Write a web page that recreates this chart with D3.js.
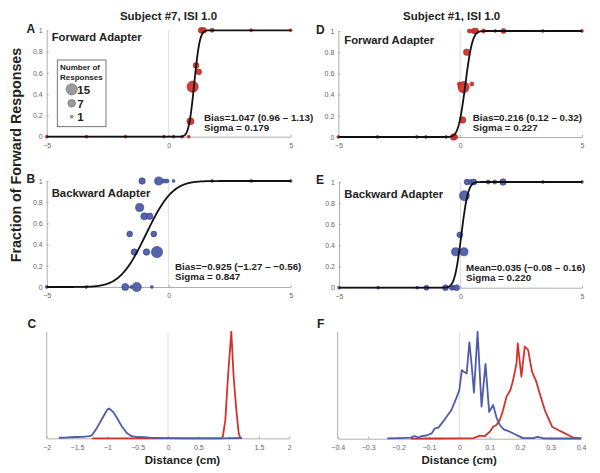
<!DOCTYPE html>
<html><head><meta charset="utf-8">
<script src="https://cdn.jsdelivr.net/npm/d3@7"></script>
<style>
body{margin:0;background:#fff}
svg{display:block}
text{font-family:"Liberation Sans",Arial,Helvetica,sans-serif}
</style>
</head><body>
<svg id="chart" width="600" height="473"></svg>
<script>
// ---------------- DATA ----------------
// psychometric points: [distance, fraction forward, number of responses]
const s7Forward = [
  [-5,0,1],[-3.37,0,1],[-1.77,0,1],[-0.2,0,1],[0.2,0,1],[0.55,0,1],[0.82,0,1],
  [0.89,0.145,6],[0.98,0.47,15],[1.12,0.67,4],[1.23,0.61,4],
  [1.33,1,4],[1.43,1,4],[1.78,1,2],[3.38,1,1],[5,1,1]
];
const s7Backward = [
  [-5,0,1],[-3.38,0,1],[-1.78,0,6],[-1.54,0,1],[-1.31,0,10],[-0.69,0,1],
  [-1.41,0.33,5],[-0.91,0.33,5],[-0.48,0.33,15],
  [-1.6,0.5,4],[-0.61,0.5,4],
  [-1.0,0.667,6],[-0.78,0.667,5],
  [-1.19,0.75,8],
  [-1.09,1,5],[-0.41,1,8],[-0.2,1,2],[-0.07,1,2],[0.2,1,1],[1.78,1,1],[3.39,1,1],[5,1,1]
];
const s1Forward = [
  [-5,0,1],[-3.39,0,1],[-1.78,0,1],[-1.41,0,1],[-0.57,0,1],[-0.27,0,5],[-0.18,0,2],
  [0.1,0.16,5],[-0.03,0.5,2],[0.48,0.5,2],[0.14,0.47,15],[0.27,0.8,5],
  [0.38,1,2],[0.55,1,3],[0.64,1,4],[0.96,1,2],[1.44,1,1],[1.78,1,3],[3.39,1,1],[5,1,1]
];
const s1Backward = [
  [-5,0,1],[-3.39,0,1],[-1.78,0,1],[-1.4,0,3],[-0.62,0,4],[-0.35,0,3],[-0.27,0,2],[-0.16,0,4],
  [-0.2,0.34,8],[0.14,0.34,8],[-0.03,0.5,4],[0.16,0.87,12],
  [0.27,1,4],[0.43,1,3],[0.55,1,4],[1.14,1,2],[1.41,1,2],[1.75,1,5],[3.39,1,1],[5,1,1]
];
// fitted cumulative-Gaussian parameters [mean, sigma]
const fitS7F = [1.047, 0.179];
const fitS7B = [-0.925, 0.847];
const fitS1F = [0.216, 0.227];
const fitS1B = [0.035, 0.220];
// annotations
const statsA = ["Bias=1.047 (0.96 \u2013 1.13)", "Sigma = 0.179"];
const statsB = ["Bias=\u22120.925 (\u22121.27 \u2013 \u22120.56)", "Sigma = 0.847"];
const statsD = ["Bias=0.216 (0.12 \u2013 0.32)", "Sigma = 0.227"];
const statsE = ["Mean=0.035 (\u22120.08 \u2013 0.16)", "Sigma = 0.220"];
const titles = ["Subject #7, ISI 1.0", "Subject #1, ISI 1.0"];
const legendCounts = [15, 7, 1];
// bootstrap distributions: [distance, relative density]
const distCBlue = [
  [-1.8,0.005],[-1.7,0.007],[-1.6,0.01],[-1.5,0.012],[-1.4,0.014],[-1.3,0.02],[-1.25,0.03],
  [-1.17,0.1],[-1.08,0.19],[-1.0,0.27],[-0.97,0.28],[-0.9,0.245],[-0.84,0.19],[-0.76,0.11],
  [-0.68,0.05],[-0.6,0.02],[-0.5,0.012],[-0.4,0.01],[-0.3,0.006],[-0.2,0.004],[-0.1,0.002],
  [0,0.001],[0.3,0],[0.6,0],[0.9,0],[1.22,0.003]
];
const distCRed = [
  [-1.25,0],[-0.8,0],[-0.4,0],[0,0],[0.5,0],[0.88,0],[0.906,0.02],[0.945,0.17],[0.989,0.58],
  [1.044,1.0],[1.082,0.58],[1.126,0.27],[1.165,0.05],[1.19,0.005],[1.22,0]
];
const distFBlue = [
  [-0.237,0.003],[-0.196,0.006],[-0.16,0.01],[-0.147,0.025],[-0.135,0.01],[-0.124,0.025],
  [-0.108,0.03],[-0.091,0.05],[-0.08,0.097],[-0.069,0.103],[-0.058,0.143],[-0.042,0.206],
  [-0.026,0.268],[-0.009,0.386],[0.0,0.455],[0.008,0.64],[0.015,0.625],[0.024,0.61],
  [0.033,0.9],[0.041,0.67],[0.048,0.43],[0.060,1.0],[0.073,0.3],[0.086,0.7],[0.098,0.25],
  [0.111,0.315],[0.122,0.2],[0.133,0.128],[0.146,0.087],[0.166,0.065],[0.188,0.034],
  [0.210,0.006],[0.243,0.006],[0.257,0.016],[0.277,0.003],[0.30,0.002],[0.40,0.002]
];
const distFRed = [
  [-0.16,0],[-0.1,0.002],[0.0,0.003],[0.046,0.006],[0.068,0.028],[0.084,0.025],[0.1,0.065],
  [0.111,0.112],[0.122,0.128],[0.133,0.175],[0.144,0.268],[0.155,0.393],[0.168,0.455],
  [0.177,0.55],[0.188,0.703],[0.192,0.89],[0.204,0.58],[0.215,0.86],[0.226,0.83],
  [0.239,0.626],[0.253,0.533],[0.264,0.424],[0.281,0.268],[0.305,0.112],[0.325,0.081],
  [0.347,0.05],[0.364,0.025],[0.375,0.01],[0.4,0.003]
];
// tick values
const psyXTicks = [-5, 0, 5];
const psyYTicks = [0, 0.2, 0.4, 0.6, 0.8, 1];
const distCTicks = [-2, -1.5, -1, -0.5, 0, 0.5, 1, 1.5, 2];
const distFTicks = [-0.4, -0.3, -0.2, -0.1, 0, 0.1, 0.2, 0.3, 0.4];

// ---------------- DRAWING ----------------
const svg = d3.select("#chart");
const RED = "#d2322b", RED_S = "#9e1e18", BLUE = "#4d5caa", BLUE_S = "#2f3b80";
const AX = "#9a9a9a", TXT = "#222";
const rScale = d3.scaleSqrt().domain([0, 15]).range([0, 5.6]);

function erf(x){
  const s = x < 0 ? -1 : 1; x = Math.abs(x);
  const t = 1/(1+0.3275911*x);
  const y = 1 - (((((1.061405429*t - 1.453152027)*t) + 1.421413741)*t - 0.284496736)*t + 0.254829592)*t*Math.exp(-x*x);
  return s*y;
}
const ncdf = (x, m, s) => 0.5*(1+erf((x-m)/(s*Math.SQRT2)));

function styleAxis(g){
  g.selectAll(".domain").attr("stroke", AX).attr("stroke-width", 0.8);
  g.selectAll(".tick line").attr("stroke", AX).attr("stroke-width", 0.8);
  g.selectAll(".tick text").attr("fill", "#666").style("font-size", "7px")
    .style("font-family", '"Liberation Sans",Arial,sans-serif');
}
const fmt = d => d3.format("~g")(d).replace("-", "\u2212");

function psyPanel(cfg){
  const x = d3.scaleLinear().domain([-5, 5]).range([cfg.x0, cfg.x1]);
  const y = d3.scaleLinear().domain([0, 1]).range([cfg.yb, cfg.yt]);
  const g = svg.append("g");
  g.append("line").attr("x1", x(0)).attr("x2", x(0)).attr("y1", y(0)).attr("y2", y(1))
    .attr("stroke", "#d4d4d4").attr("stroke-width", 0.8);
  const gx = g.append("g").attr("transform", `translate(0,${y(0)})`)
    .call(d3.axisBottom(x).tickValues(psyXTicks).tickFormat(fmt).tickSize(-2).tickSizeOuter(0).tickPadding(6.5));
  styleAxis(gx);
  const gy = g.append("g").attr("transform", `translate(${x(-5)},0)`)
    .call(d3.axisLeft(y).tickValues(psyYTicks).tickFormat(fmt).tickSize(-2).tickSizeOuter(0).tickPadding(4));
  styleAxis(gy);
  g.selectAll("circle.pt").data(cfg.pts).join("circle").attr("class", "pt")
    .attr("cx", d => x(d[0])).attr("cy", d => y(d[1])).attr("r", d => rScale(d[2]))
    .attr("fill", cfg.fill).attr("stroke", cfg.stroke).attr("stroke-width", 0.6).attr("fill-opacity", 0.95);
  const xs = d3.range(-5, 5.0001, 0.02);
  g.append("path").datum(xs)
    .attr("d", d3.line().x(d => x(d)).y(d => y(ncdf(d, cfg.fit[0], cfg.fit[1]))))
    .attr("fill", "none").attr("stroke", "#111").attr("stroke-width", 1.8);
  g.append("text").attr("x", cfg.lx).attr("y", cfg.ly).text(cfg.label)
    .style("font-size", "11.3px").style("font-weight", "bold").attr("fill", TXT);
  g.selectAll("text.st").data(cfg.stats).join("text").attr("class", "st")
    .attr("x", cfg.sx).attr("y", (d, i) => cfg.sy + i*10.5).text(d => d)
    .style("font-size", "9.8px").style("font-weight", "bold").attr("fill", TXT);
  svg.append("text").attr("x", cfg.letterX).attr("y", cfg.letterY).text(cfg.letter)
    .style("font-size", "12px").style("font-weight", "bold").attr("fill", TXT);
}

function distPanel(cfg){
  const x = d3.scaleLinear().domain(cfg.dom).range([cfg.x0, cfg.x1]);
  const y = d3.scaleLinear().domain([0, 1]).range([cfg.yb, cfg.yt]);
  const g = svg.append("g");
  g.append("line").attr("x1", x(0)).attr("x2", x(0)).attr("y1", y(0)).attr("y2", y(1))
    .attr("stroke", "#d4d4d4").attr("stroke-width", 0.8);
  g.append("line").attr("x1", cfg.x0).attr("x2", cfg.x0).attr("y1", y(0)).attr("y2", y(1))
    .attr("stroke", AX).attr("stroke-width", 0.8);
  const gx = g.append("g").attr("transform", `translate(0,${y(0)})`)
    .call(d3.axisBottom(x).tickValues(cfg.ticks).tickFormat(fmt).tickSize(-2).tickSizeOuter(0).tickPadding(6.5));
  styleAxis(gx);
  const line = d3.line().x(d => x(d[0])).y(d => y(d[1]));
  g.append("path").datum(cfg.red).attr("d", line).attr("fill", "none")
    .attr("stroke", RED).attr("stroke-width", 1.8).attr("stroke-linejoin", "round");
  g.append("path").datum(cfg.blue).attr("d", line).attr("fill", "none")
    .attr("stroke", BLUE).attr("stroke-width", 1.8).attr("stroke-linejoin", "round");
  g.append("text").attr("x", cfg.tx).attr("y", 463.5).attr("text-anchor", "middle")
    .text("Distance (cm)").style("font-size", "11.5px").style("font-weight", "bold").attr("fill", TXT);
  svg.append("text").attr("x", cfg.letterX).attr("y", 328).text(cfg.letter)
    .style("font-size", "12px").style("font-weight", "bold").attr("fill", TXT);
}

psyPanel({x0:46.7, x1:290.7, yb:136.7, yt:30.3, pts:s7Forward, fit:fitS7F, fill:RED, stroke:RED_S,
  label:"Forward Adapter", lx:51.7, ly:40.7, stats:statsA, sx:204, sy:120.7, letter:"A", letterX:26.5, letterY:33});
psyPanel({x0:46.7, x1:290.7, yb:287, yt:181, pts:s7Backward, fit:fitS7B, fill:BLUE, stroke:BLUE_S,
  label:"Backward Adapter", lx:51.7, ly:196.7, stats:statsB, sx:175, sy:269.5, letter:"B", letterX:26.5, letterY:183});
psyPanel({x0:338.3, x1:582, yb:137, yt:31, pts:s1Forward, fit:fitS1F, fill:RED, stroke:RED_S,
  label:"Forward Adapter", lx:344.3, ly:44.3, stats:statsD, sx:472.7, sy:120.7, letter:"D", letterX:316, letterY:34});
psyPanel({x0:339, x1:582, yb:287.7, yt:182, pts:s1Backward, fit:fitS1B, fill:BLUE, stroke:BLUE_S,
  label:"Backward Adapter", lx:344.3, ly:197.7, stats:statsE, sx:466, sy:270.7, letter:"E", letterX:316, letterY:184});

distPanel({dom:[-2,2], x0:46.7, x1:289.3, yb:438.3, yt:331.7, ticks:distCTicks, red:distCRed, blue:distCBlue,
  tx:182.5, letter:"C", letterX:27.5});
distPanel({dom:[-0.4,0.4], x0:337.7, x1:581, yb:438.7, yt:331.7, ticks:distFTicks, red:distFRed, blue:distFBlue,
  tx:459.2, letter:"F", letterX:317});

// titles
svg.selectAll("text.title").data(titles).join("text").attr("class", "title")
  .attr("x", (d, i) => i === 0 ? 168.5 : 451.7).attr("y", 20).attr("text-anchor", "middle")
  .text(d => d).style("font-size", "11.5px").style("font-weight", "bold").attr("fill", TXT);

// y label
svg.append("text").attr("transform", "translate(21,155) rotate(-90)").attr("text-anchor", "middle")
  .text("Fraction of Forward Responses").style("font-size", "14.3px").style("font-weight", "bold").attr("fill", TXT);

// legend
const lg = svg.append("g");
lg.append("rect").attr("x", 57.3).attr("y", 60).attr("width", 48.7).attr("height", 66.7)
  .attr("fill", "#fff").attr("stroke", "#555").attr("stroke-width", 0.8);
lg.append("text").attr("x", 60).attr("y", 70).text("Number of").style("font-size", "8px").style("font-weight", "bold").attr("fill", TXT);
lg.append("text").attr("x", 60).attr("y", 80).text("Responses").style("font-size", "8px").style("font-weight", "bold").attr("fill", TXT);
const lgY = [89.3, 103.3, 116.7];
lg.selectAll("circle").data(legendCounts).join("circle")
  .attr("cx", 71.7).attr("cy", (d, i) => lgY[i]).attr("r", d => rScale(d))
  .attr("fill", "#9a9a9a").attr("stroke", "#666").attr("stroke-width", 0.6);
lg.selectAll("text.lv").data(legendCounts).join("text").attr("class", "lv")
  .attr("x", 77.3).attr("y", (d, i) => lgY[i] + 4.2).text(d => d)
  .style("font-size", "11.5px").style("font-weight", "bold").attr("fill", TXT);
</script>
</body></html>
